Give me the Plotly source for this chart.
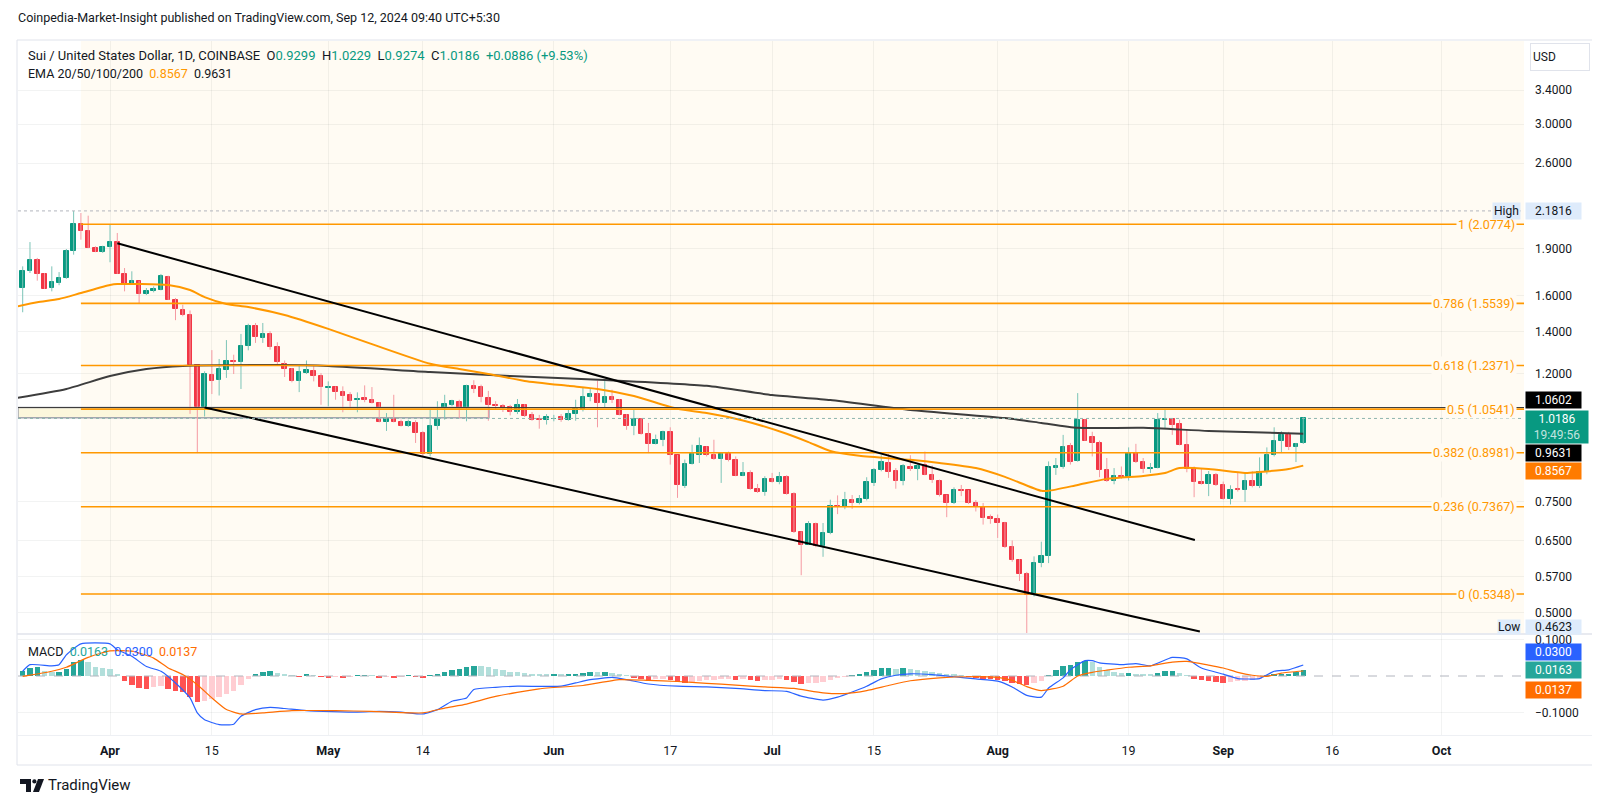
import math
import pandas as pd
import plotly.graph_objects as go

FONT = "Roboto, 'Noto Sans', sans-serif"
TEXT = "#131722"
UP, DOWN = "#089981", "#f23645"
UP_WICK, DOWN_WICK = "#7cc4b7", "#f59aa2"
FIB = "#ff9800"
EMA50_COLOR = "#ff9800"
EMA200_COLOR = "#3d3d3d"
GRID = "rgba(42,46,57,0.06)"
CREAM = "#fffbf3"

# ---------------- data ----------------
# SUI/USD daily candles, Mar 20 -> Sep 12 2024
dates = pd.date_range("2024-03-20", "2024-09-12", freq="D")

opens = [
    1.644, 1.748, 1.820, 1.733, 1.644, 1.675, 1.706, 1.886, 2.079, 2.024,
    1.904, 1.877, 1.909, 1.944, 1.733, 1.669, 1.685, 1.610, 1.624, 1.634,
    1.712, 1.575, 1.518, 1.489, 1.238, 1.062, 1.193, 1.172, 1.218, 1.259,
    1.251, 1.330, 1.429, 1.368, 1.390, 1.324, 1.245, 1.223, 1.169, 1.203,
    1.213, 1.191, 1.139, 1.142, 1.121, 1.109, 1.088, 1.098, 1.091, 1.078,
    1.006, 1.026, 1.006, 0.990, 1.002, 0.966, 0.895, 0.992, 1.020, 1.071,
    1.082, 1.024, 1.146, 1.142, 1.100, 1.071, 1.065, 1.061, 1.043, 1.071,
    1.030, 1.017, 1.013, 1.016, 1.024, 1.014, 1.035, 1.052, 1.101, 1.114,
    1.078, 1.102, 1.091, 1.030, 0.990, 1.017, 0.962, 0.928, 0.942, 0.968,
    0.890, 0.794, 0.862, 0.892, 0.918, 0.890, 0.878, 0.895, 0.876, 0.825,
    0.834, 0.786, 0.778, 0.817, 0.806, 0.821, 0.772, 0.671, 0.641, 0.692,
    0.637, 0.669, 0.740, 0.735, 0.754, 0.747, 0.757, 0.804, 0.843, 0.865,
    0.841, 0.811, 0.852, 0.847, 0.859, 0.829, 0.811, 0.768, 0.747, 0.784,
    0.782, 0.747, 0.737, 0.709, 0.705, 0.694, 0.635, 0.606, 0.576, 0.532,
    0.599, 0.614, 0.849, 0.851, 0.920, 0.870, 1.014, 0.951, 0.931, 0.843,
    0.810, 0.824, 0.821, 0.897, 0.868, 0.847, 0.849, 1.014, 1.017, 0.999,
    0.925, 0.846, 0.807, 0.801, 0.829, 0.797, 0.759, 0.786, 0.784, 0.809,
    0.794, 0.836, 0.890, 0.937, 0.958, 0.916, 0.9299,
]
highs = [
    1.780, 1.946, 1.836, 1.737, 1.780, 1.743, 1.897, 2.1816, 2.165, 2.144,
    1.916, 1.920, 2.079, 2.012, 1.769, 1.748, 1.688, 1.644, 1.654, 1.731,
    1.720, 1.585, 1.546, 1.514, 1.240, 1.211, 1.309, 1.267, 1.358, 1.287,
    1.389, 1.442, 1.446, 1.446, 1.403, 1.347, 1.260, 1.226, 1.234, 1.260,
    1.234, 1.203, 1.167, 1.146, 1.146, 1.122, 1.121, 1.150, 1.143, 1.081,
    1.039, 1.111, 1.014, 1.014, 1.012, 0.972, 1.052, 1.085, 1.111, 1.091,
    1.091, 1.153, 1.172, 1.153, 1.127, 1.085, 1.074, 1.071, 1.094, 1.074,
    1.043, 1.032, 1.035, 1.032, 1.035, 1.054, 1.091, 1.139, 1.136, 1.170,
    1.172, 1.132, 1.094, 1.035, 1.052, 1.020, 1.002, 0.960, 0.974, 0.986,
    0.891, 0.876, 0.925, 0.950, 0.920, 0.942, 0.897, 0.902, 0.886, 0.868,
    0.842, 0.801, 0.824, 0.834, 0.837, 0.827, 0.777, 0.673, 0.699, 0.695,
    0.694, 0.756, 0.768, 0.778, 0.769, 0.769, 0.821, 0.849, 0.890, 0.894,
    0.849, 0.862, 0.890, 0.865, 0.902, 0.857, 0.814, 0.770, 0.791, 0.798,
    0.783, 0.755, 0.747, 0.716, 0.716, 0.697, 0.651, 0.608, 0.580, 0.614,
    0.648, 0.870, 0.881, 0.959, 0.931, 1.118, 1.017, 0.970, 0.939, 0.881,
    0.849, 0.854, 0.916, 0.928, 0.881, 0.865, 1.039, 1.055, 1.020, 1.014,
    0.977, 0.854, 0.849, 0.840, 0.834, 0.808, 0.797, 0.834, 0.834, 0.839,
    0.883, 0.916, 0.986, 0.972, 0.970, 0.931, 1.0229,
]
lows = [
    1.504, 1.737, 1.689, 1.638, 1.624, 1.661, 1.700, 1.858, 1.963, 1.903,
    1.875, 1.870, 1.807, 1.731, 1.624, 1.665, 1.550, 1.602, 1.618, 1.630,
    1.573, 1.461, 1.482, 1.036, 0.897, 1.026, 1.114, 1.108, 1.182, 1.199,
    1.135, 1.308, 1.344, 1.344, 1.311, 1.244, 1.186, 1.163, 1.122, 1.199,
    1.167, 1.071, 1.065, 1.091, 1.042, 1.062, 1.042, 1.081, 1.076, 1.004,
    0.973, 1.004, 0.989, 0.987, 0.931, 0.886, 0.886, 0.977, 1.014, 1.065,
    1.020, 1.008, 1.118, 1.081, 1.010, 1.052, 1.043, 1.030, 1.035, 1.024,
    1.010, 0.981, 0.996, 1.008, 1.006, 1.010, 1.010, 1.045, 1.085, 0.986,
    1.062, 1.078, 1.030, 0.977, 0.958, 0.960, 0.897, 0.926, 0.920, 0.860,
    0.761, 0.789, 0.860, 0.865, 0.886, 0.875, 0.804, 0.870, 0.824, 0.824,
    0.784, 0.775, 0.767, 0.805, 0.800, 0.770, 0.669, 0.573, 0.640, 0.635,
    0.613, 0.666, 0.717, 0.730, 0.731, 0.743, 0.754, 0.795, 0.839, 0.819,
    0.787, 0.797, 0.840, 0.812, 0.827, 0.804, 0.765, 0.709, 0.744, 0.766,
    0.744, 0.724, 0.690, 0.692, 0.657, 0.633, 0.602, 0.561, 0.4623, 0.530,
    0.590, 0.599, 0.828, 0.847, 0.860, 0.869, 0.938, 0.886, 0.821, 0.807,
    0.800, 0.816, 0.811, 0.865, 0.834, 0.834, 0.848, 0.9835, 0.959, 0.923,
    0.836, 0.763, 0.799, 0.766, 0.795, 0.756, 0.743, 0.779, 0.750, 0.791,
    0.789, 0.830, 0.886, 0.897, 0.907, 0.868, 0.9274,
]
closes = [
    1.748, 1.820, 1.733, 1.640, 1.679, 1.706, 1.886, 2.079, 2.024, 1.904,
    1.877, 1.909, 1.944, 1.733, 1.669, 1.685, 1.610, 1.628, 1.640, 1.716,
    1.575, 1.522, 1.489, 1.238, 1.062, 1.199, 1.167, 1.222, 1.259, 1.253,
    1.330, 1.429, 1.372, 1.390, 1.324, 1.252, 1.223, 1.169, 1.207, 1.215,
    1.191, 1.142, 1.143, 1.121, 1.107, 1.087, 1.095, 1.091, 1.078, 1.006,
    1.024, 1.006, 0.990, 1.005, 0.966, 0.895, 0.992, 1.024, 1.075, 1.085,
    1.024, 1.146, 1.136, 1.104, 1.071, 1.065, 1.058, 1.043, 1.071, 1.026,
    1.014, 1.014, 1.023, 1.018, 1.014, 1.036, 1.054, 1.102, 1.114, 1.078,
    1.101, 1.091, 1.032, 0.990, 1.017, 0.962, 0.928, 0.942, 0.968, 0.890,
    0.797, 0.862, 0.895, 0.922, 0.890, 0.878, 0.895, 0.876, 0.825, 0.834,
    0.786, 0.779, 0.817, 0.807, 0.821, 0.772, 0.671, 0.641, 0.692, 0.637,
    0.669, 0.740, 0.735, 0.754, 0.747, 0.758, 0.807, 0.842, 0.867, 0.837,
    0.811, 0.854, 0.847, 0.857, 0.829, 0.814, 0.768, 0.747, 0.784, 0.780,
    0.747, 0.735, 0.707, 0.705, 0.694, 0.635, 0.606, 0.576, 0.532, 0.599,
    0.614, 0.851, 0.854, 0.916, 0.868, 1.014, 0.939, 0.931, 0.842, 0.811,
    0.824, 0.821, 0.897, 0.868, 0.847, 0.850, 1.014, 1.017, 0.996, 0.925,
    0.846, 0.807, 0.801, 0.829, 0.797, 0.759, 0.784, 0.784, 0.809, 0.794,
    0.837, 0.890, 0.939, 0.958, 0.916, 0.929, 1.0186,
]

# MACD histogram, one bar per day
macd_hist = [
    0.013, 0.022, 0.024, 0.015, 0.011, 0.011, 0.020, 0.037, 0.045, 0.037,
    0.026, 0.022, 0.019, 0.004, -0.015, -0.024, -0.033, -0.035, -0.030, -0.028,
    -0.035, -0.040, -0.045, -0.058, -0.070, -0.068, -0.063, -0.057, -0.048, -0.040,
    -0.025, -0.008, 0.004, 0.012, 0.013, 0.007, 0.004, 0.002, -0.001, 0.003,
    0.002, -0.002, -0.003, -0.002, -0.003, -0.002, 0.001, 0.002, 0.001, -0.003,
    -0.002, -0.003, -0.002, 0.001, -0.002, -0.004, 0.001, 0.004, 0.010, 0.016,
    0.018, 0.025, 0.028, 0.027, 0.024, 0.020, 0.016, 0.012, 0.010, 0.008,
    0.006, 0.005, 0.004, 0.004, 0.003, 0.004, 0.006, 0.009, 0.012, 0.010,
    0.012, 0.008, 0.004, 0.001, -0.004, -0.008, -0.010, -0.009, -0.008, -0.010,
    -0.016, -0.018, -0.016, -0.013, -0.011, -0.010, -0.009, -0.008, -0.010, -0.009,
    -0.012, -0.013, -0.011, -0.010, -0.009, -0.010, -0.016, -0.021, -0.020, -0.019,
    -0.017, -0.010, -0.005, -0.001, 0.002, 0.005, 0.010, 0.016, 0.021, 0.023,
    0.020, 0.021, 0.019, 0.017, 0.015, 0.012, 0.008, 0.004, 0.003, 0.001,
    -0.002, -0.004, -0.007, -0.009, -0.011, -0.015, -0.019, -0.021, -0.024, -0.019,
    -0.015, 0.002, 0.016, 0.028, 0.029, 0.037, 0.040, 0.037, 0.025, 0.017,
    0.011, 0.007, 0.008, 0.005, 0.004, 0.003, 0.009, 0.013, 0.014, 0.008,
    0.002, -0.008, -0.011, -0.013, -0.016, -0.019, -0.017, -0.015, -0.013, -0.010,
    -0.007, 0.002, 0.004, 0.005, 0.006, 0.010, 0.0163,
]

macd_dates = [
    "2024-03-20", "2024-03-21", "2024-03-24", "2024-03-25", "2024-03-26", "2024-03-28",
    "2024-04-01", "2024-04-02", "2024-04-04", "2024-04-06", "2024-04-08", "2024-04-10",
    "2024-04-12", "2024-04-13", "2024-04-14", "2024-04-16", "2024-04-18", "2024-04-19",
    "2024-04-21", "2024-04-23", "2024-04-25", "2024-04-28", "2024-05-05", "2024-05-08",
    "2024-05-11", "2024-05-14", "2024-05-16", "2024-05-18", "2024-05-20", "2024-05-21",
    "2024-05-24", "2024-05-27", "2024-06-02", "2024-06-04", "2024-06-06", "2024-06-09",
    "2024-06-11", "2024-06-14", "2024-06-18", "2024-06-22", "2024-06-26", "2024-06-30",
    "2024-07-03", "2024-07-05", "2024-07-08", "2024-07-10", "2024-07-12", "2024-07-14",
    "2024-07-16", "2024-07-18", "2024-07-20", "2024-07-23", "2024-07-26", "2024-07-29",
    "2024-08-01", "2024-08-03", "2024-08-05", "2024-08-07", "2024-08-08", "2024-08-10",
    "2024-08-11", "2024-08-13", "2024-08-14", "2024-08-15", "2024-08-18", "2024-08-20",
    "2024-08-22", "2024-08-25", "2024-08-27", "2024-08-29", "2024-09-01", "2024-09-03",
    "2024-09-06", "2024-09-08", "2024-09-10", "2024-09-12",
]
macd_vals = [
    0.013, 0.031, 0.028, 0.031, 0.058, 0.088,
    0.088, 0.072, 0.054, 0.026, 0.013, -0.019,
    -0.060, -0.101, -0.120, -0.133, -0.132, -0.110,
    -0.092, -0.086, -0.089, -0.095, -0.099, -0.097,
    -0.099, -0.104, -0.092, -0.069, -0.060, -0.037,
    -0.031, -0.028, -0.028, -0.019, -0.010, -0.004,
    -0.010, -0.022, -0.028, -0.030, -0.034, -0.040,
    -0.042, -0.055, -0.066, -0.058, -0.044, -0.028,
    -0.008, 0.002, 0.006, 0.004, -0.002, -0.008,
    -0.014, -0.030, -0.053, -0.058, -0.033, -0.005,
    0.017, 0.042, 0.042, 0.036, 0.031, 0.034,
    0.028, 0.051, 0.047, 0.022, 0.005, -0.007,
    -0.007, 0.013, 0.017, 0.030,
]
signal_dates = [
    "2024-03-20", "2024-03-24", "2024-03-26", "2024-03-29",
    "2024-04-01", "2024-04-04", "2024-04-07", "2024-04-09", "2024-04-11", "2024-04-13",
    "2024-04-15", "2024-04-17", "2024-04-19", "2024-04-22", "2024-04-26",
    "2024-05-02", "2024-05-07", "2024-05-14", "2024-05-17", "2024-05-20", "2024-05-24", "2024-05-30",
    "2024-06-05", "2024-06-10", "2024-06-14", "2024-06-18", "2024-06-22", "2024-06-26", "2024-06-30",
    "2024-07-04", "2024-07-08", "2024-07-11", "2024-07-14", "2024-07-17", "2024-07-20", "2024-07-24", "2024-07-28",
    "2024-08-01", "2024-08-03", "2024-08-05", "2024-08-07", "2024-08-10", "2024-08-12", "2024-08-14",
    "2024-08-16", "2024-08-19", "2024-08-22", "2024-08-25", "2024-08-27", "2024-08-30",
    "2024-09-01", "2024-09-03", "2024-09-05", "2024-09-07", "2024-09-09", "2024-09-12",
]
signal_vals = [
    -0.001, 0.013, 0.024, 0.051,
    0.069, 0.068, 0.049, 0.022, 0.004, -0.024,
    -0.060, -0.092, -0.104, -0.101, -0.095,
    -0.095, -0.097, -0.101, -0.088, -0.077, -0.056, -0.035,
    -0.026, -0.010, -0.012, -0.015, -0.020, -0.025, -0.030,
    -0.034, -0.046, -0.048, -0.040, -0.026, -0.013, -0.005, -0.002,
    -0.004, -0.012, -0.029, -0.040, -0.028, 0.000, 0.010,
    0.016, 0.024, 0.028, 0.038, 0.040, 0.030,
    0.022, 0.010, 0.002, -0.001, 0.008, 0.0137,
]

ema50_dates = [
    "2024-03-19", "2024-03-22", "2024-03-25", "2024-03-28",
    "2024-04-01", "2024-04-02", "2024-04-09", "2024-04-12", "2024-04-14", "2024-04-17", "2024-04-20", "2024-04-25",
    "2024-05-01", "2024-05-07", "2024-05-15", "2024-05-19", "2024-05-23", "2024-05-28",
    "2024-06-03", "2024-06-07", "2024-06-12", "2024-06-18", "2024-06-22", "2024-06-27",
    "2024-07-03", "2024-07-06", "2024-07-09", "2024-07-13", "2024-07-20", "2024-07-24", "2024-07-29",
    "2024-08-02", "2024-08-07", "2024-08-08", "2024-08-12", "2024-08-16", "2024-08-21", "2024-08-24",
    "2024-08-26", "2024-08-30", "2024-09-04", "2024-09-06", "2024-09-10", "2024-09-12",
]
ema50_vals = [
    1.535, 1.560, 1.579, 1.614,
    1.662, 1.668, 1.662, 1.632, 1.590, 1.550, 1.533, 1.489,
    1.415, 1.338, 1.245, 1.221, 1.199, 1.169,
    1.148, 1.135, 1.106, 1.055, 1.039, 1.011,
    0.963, 0.934, 0.904, 0.888, 0.875, 0.865, 0.849,
    0.822, 0.781, 0.781, 0.798, 0.816, 0.825, 0.834,
    0.849, 0.846, 0.834, 0.837, 0.846, 0.8567,
]
ema200_dates = [
    "2024-03-19", "2024-03-26", "2024-04-01", "2024-04-06", "2024-04-11", "2024-04-24",
    "2024-05-01", "2024-05-15", "2024-05-26", "2024-06-08", "2024-06-22", "2024-07-01",
    "2024-07-09", "2024-07-20", "2024-08-02", "2024-08-07", "2024-08-12", "2024-08-21",
    "2024-08-30", "2024-09-12",
]
ema200_vals = [
    1.097, 1.135, 1.190, 1.221, 1.235, 1.239,
    1.235, 1.208, 1.190, 1.173, 1.148, 1.110,
    1.090, 1.051, 1.020, 1.002, 0.984, 0.984,
    0.973, 0.9631,
]

# fibonacci retracement
fib_ratios = ["1", "0.786", "0.618", "0.5", "0.382", "0.236", "0"]
fib_prices = [2.0774, 1.5539, 1.2371, 1.0541, 0.8981, 0.7367, 0.5348]
fib_start = "2024-03-28"

# descending channel
upper_dates = ["2024-04-02", "2024-08-28 02:30"]
upper_prices = [1.937, 0.652]
lower_dates = ["2024-04-14", "2024-08-28 19:00"]
lower_prices = [1.0604, 0.466]

hline_price = 1.0602
zone_end = "2024-05-23 02:00"
zone_top, zone_bottom = 1.0602, 1.021

high_price, low_price, last_price = 2.1816, 0.4623, 1.0186
ema50_last, ema200_last = 0.8567, 0.9631
macd_last, hist_last, signal_last = 0.0300, 0.0163, 0.0137

price_ticks = [3.4, 3.0, 2.6, 1.9, 1.6, 1.4, 1.2, 0.75, 0.65, 0.57, 0.5]
macd_ticks = [0.1, -0.1]
date_ticks = ["2024-04-01", "2024-04-15", "2024-05-01", "2024-05-14", "2024-06-01", "2024-06-17",
              "2024-07-01", "2024-07-15", "2024-08-01", "2024-08-19", "2024-09-01", "2024-09-16",
              "2024-10-01"]
date_labels = ["<b>Apr</b>", "15", "<b>May</b>", "14", "<b>Jun</b>", "17",
               "<b>Jul</b>", "15", "<b>Aug</b>", "19", "<b>Sep</b>", "16", "<b>Oct</b>"]

x_start, x_end = "2024-03-19 08:30", "2024-10-12 08:10"

# ---------------- pixel helpers for the chrome ----------------
L, R, T, B = 10, 1516, 33, 727


def px(x):
    return (x - L) / (R - L)


def py(y):
    return (B - y) / (B - T)


fig = go.Figure()

# left highlighted zone
fig.add_trace(go.Scatter(
    x=[x_start, zone_end, zone_end, x_start, x_start],
    y=[zone_top, zone_top, zone_bottom, zone_bottom, zone_top],
    mode="lines", fill="toself", fillcolor="#fcf7dc",
    line=dict(color="#a3a6af", width=1.5), hoverinfo="skip"))

# wicks
def wick_xy(want_up):
    xs, ys = [], []
    for d, o, h, l, c in zip(dates, opens, highs, lows, closes):
        if (c >= o) == want_up:
            xs += [d, d, None]
            ys += [l, h, None]
    return xs, ys


for want_up, col in [(True, UP_WICK), (False, DOWN_WICK)]:
    wx, wy = wick_xy(want_up)
    fig.add_trace(go.Scatter(x=wx, y=wy, mode="lines", line=dict(color=col, width=1),
                             hoverinfo="skip"))

# bodies
body_base = [min(o, c) for o, c in zip(opens, closes)]
body_len = [abs(c - o) for o, c in zip(opens, closes)]
body_col = [UP if c >= o else DOWN for o, c in zip(opens, closes)]
fig.add_trace(go.Bar(x=dates, y=body_len, base=body_base, width=0.62 * 86400000,
                     marker=dict(color=body_col, line=dict(color=body_col, width=1)),
                     hoverinfo="skip"))

# EMAs
fig.add_trace(go.Scatter(x=ema200_dates, y=ema200_vals, mode="lines",
                         line=dict(color=EMA200_COLOR, width=2, shape="spline", smoothing=0.6)))
fig.add_trace(go.Scatter(x=ema50_dates, y=ema50_vals, mode="lines",
                         line=dict(color=EMA50_COLOR, width=2, shape="spline", smoothing=0.6)))

# horizontal line at 1.0602
fig.add_trace(go.Scatter(x=[x_start, x_end], y=[hline_price, hline_price], mode="lines",
                         line=dict(color="#3a3a3a", width=1)))

# fib levels
for p in fib_prices:
    fig.add_trace(go.Scatter(x=[fib_start, x_end], y=[p, p], mode="lines",
                             line=dict(color=FIB, width=1.6)))

# channel
fig.add_trace(go.Scatter(x=upper_dates, y=upper_prices, mode="lines",
                         line=dict(color="black", width=2)))
fig.add_trace(go.Scatter(x=lower_dates, y=lower_prices, mode="lines",
                         line=dict(color="black", width=2)))

# high / last price dotted lines
fig.add_trace(go.Scatter(x=[x_start, x_end], y=[high_price, high_price], mode="lines",
                         line=dict(color="#b2b5be", width=1, dash="dot")))
fig.add_trace(go.Scatter(x=[x_start, x_end], y=[last_price, last_price], mode="lines",
                         line=dict(color="#8fb5ae", width=1, dash="dot")))

# ---------------- MACD pane ----------------
hist_col = []
prev = macd_hist[0]
for v in macd_hist:
    if v >= 0:
        hist_col.append("#26a69a" if v >= prev else "#b2dfdb")
    else:
        hist_col.append("#ff5252" if v <= prev else "#ffcdd2")
    prev = v
fig.add_trace(go.Bar(x=dates, y=macd_hist, width=0.75 * 86400000, marker=dict(color=hist_col, line=dict(width=0)),
                     xaxis="x", yaxis="y2", hoverinfo="skip"))
fig.add_trace(go.Scatter(x=[x_start, x_end], y=[0, 0], mode="lines", xaxis="x", yaxis="y2",
                         line=dict(color="#b2b5be", width=1, dash="dash")))
fig.add_trace(go.Scatter(x=macd_dates, y=macd_vals, mode="lines", xaxis="x", yaxis="y2",
                         line=dict(color="#2962ff", width=1.2, shape="spline", smoothing=0.5)))
fig.add_trace(go.Scatter(x=signal_dates, y=signal_vals, mode="lines", xaxis="x", yaxis="y2",
                         line=dict(color="#ff6d00", width=1.2, shape="spline", smoothing=0.5)))

# ---------------- background & frame ----------------
fig.add_shape(type="rect", xref="x", yref="y domain", x0=fib_start, x1=x_end, y0=0, y1=1,
              fillcolor=CREAM, line=dict(width=0), layer="below")
fig.add_shape(type="rect", xref="paper", yref="paper", x0=px(9), x1=px(1590), y0=py(757), y1=py(32),
              line=dict(color="#e0e3eb", width=1))
fig.add_shape(type="line", xref="paper", yref="paper", x0=px(9), x1=px(1590), y0=py(626), y1=py(626),
              line=dict(color="#e0e3eb", width=1.5))
fig.add_shape(type="line", xref="paper", yref="paper", x0=px(9), x1=px(1590), y0=py(727.5), y1=py(727.5),
              line=dict(color="#eef0f4", width=1))

# TradingView logo
def poly(points):
    pts = " L".join(f"{px(x):.5f},{py(y):.5f}" for x, y in points)
    return "M" + pts + " Z"


for pts in [[(12, 771), (23, 771), (23, 784), (18, 784), (18, 776), (12, 776)],
            [(30, 771), (36, 771), (31, 784), (25, 784)]]:
    fig.add_shape(type="path", xref="paper", yref="paper", path=poly(pts),
                  fillcolor=TEXT, line=dict(width=0))
fig.add_shape(type="circle", xref="paper", yref="paper", x0=px(24.3), x1=px(28.5), y0=py(775.5), y1=py(771.3),
              fillcolor=TEXT, line=dict(width=0))


def note(text, x, y, size=13, color=TEXT, xanchor="left", **kw):
    fig.add_annotation(text=text, x=px(x), y=py(y), xref="paper", yref="paper", showarrow=False,
                       xanchor=xanchor, yanchor="middle", font=dict(family=FONT, size=size, color=color), **kw)


def tag(text, y, bg, fg="white", x=1517, width=53):
    note(text, x, y, size=12, color=fg, bgcolor=bg, width=width, borderpad=1, align="center")


G = "<span style='color:#089981'>"
S = "\u00a0\u00a0"
note("Coinpedia-Market-Insight published on TradingView.com, Sep 12, 2024 09:40 UTC+5:30", 8, 10, size=12.5)
note(f"Sui / United States Dollar, 1D, COINBASE{S}O{G}0.9299</span>{S}H{G}1.0229</span>{S}"
     f"L{G}0.9274</span>{S}C{G}1.0186</span>{S}{G}+0.0886 (+9.53%)</span>", 18, 47, size=13)
note(f"EMA 20/50/100/200{S}<span style='color:{EMA50_COLOR}'>{ema50_last:.4f}</span>{S}"
     f"<span style='color:{TEXT}'>{ema200_last:.4f}</span>", 18, 65, size=12.5)
note(f"MACD{S}<span style='color:#26a69a'>{hist_last:.4f}</span>{S}"
     f"<span style='color:#2962ff'>{macd_last:.4f}</span>{S}"
     f"<span style='color:#ff6d00'>{signal_last:.4f}</span>", 18, 643, size=12.5)
note("TradingView", 38, 777, size=15)

# fib labels
for r, p in zip(fib_ratios, fib_prices):
    fig.add_annotation(text=f"{r} ({p:.4f})", x=px(1509), y=math.log10(p), xref="paper", yref="y",
                       showarrow=False, xanchor="right", yanchor="middle", bgcolor=CREAM, borderpad=1,
                       font=dict(family=FONT, size=12.5, color=FIB))

# price scale tags
note("USD", 1522, 49, size=12, bordercolor="#e0e3eb", borderwidth=1, width=54, height=22,
     align="left", borderpad=2, bgcolor="white")
note("High", 1513, 203, size=12, xanchor="right", bgcolor="#deebfb", borderpad=1)
tag(f"{high_price:.4f}", 203, "#deebfb", fg=TEXT)
tag(f"{hline_price:.4f}", 392, "#000000")
tag(f"{last_price:.4f}<br><span style='color:rgba(255,255,255,0.75)'>19:49:56</span>", 419.5, UP, width=60)
tag(f"{ema200_last:.4f}", 445, "#000000")
tag(f"{ema50_last:.4f}", 463.5, "#ff7b00")
note("Low", 1513, 618.5, size=12, xanchor="right", bgcolor="#deebfb", borderpad=0)
note(f"{low_price:.4f}", 1517, 618.5, size=12, bgcolor="#deebfb", width=55, borderpad=0, align="center")
tag(f"{macd_last:.4f}", 643.5, "#2962ff")
tag(f"{hist_last:.4f}", 662, "#26a69a")
tag(f"{signal_last:.4f}", 681.5, "#ff6d00")

fig.update_layout(
    width=1600, height=796,
    margin=dict(l=L, r=1600 - R, t=T, b=796 - B),
    paper_bgcolor="white", plot_bgcolor="white",
    showlegend=False, barmode="overlay", bargap=0,
    font=dict(family=FONT, color=TEXT, size=12),
    xaxis=dict(type="date", range=[x_start, x_end], anchor="y2", tickvals=date_ticks,
               ticktext=date_labels, showgrid=True, gridcolor=GRID, zeroline=False,
               showline=False, ticks="", ticklabelstandoff=6,
               tickfont=dict(size=12.5, color=TEXT)),
    yaxis=dict(type="log", domain=[(B - 625) / (B - T), 1], range=[math.log10(0.4635), math.log10(4.070)],
               side="right", anchor="x", tickvals=price_ticks,
               ticktext=[f"{v:.4f}" for v in price_ticks], showgrid=True, gridcolor=GRID,
               zeroline=False, showline=False, ticks="", ticklabelstandoff=10,
               tickfont=dict(size=12, color=TEXT)),
    yaxis2=dict(domain=[0, (B - 627) / (B - T)], range=[-0.1616, 0.1123], side="right", anchor="x",
                tickvals=macd_ticks, ticktext=["0.1000", "\u22120.1000"], showgrid=True,
                gridcolor=GRID, zeroline=False, showline=False, ticks="", ticklabelstandoff=10,
                tickfont=dict(size=12, color=TEXT)),
)

fig.write_html("out.html")
